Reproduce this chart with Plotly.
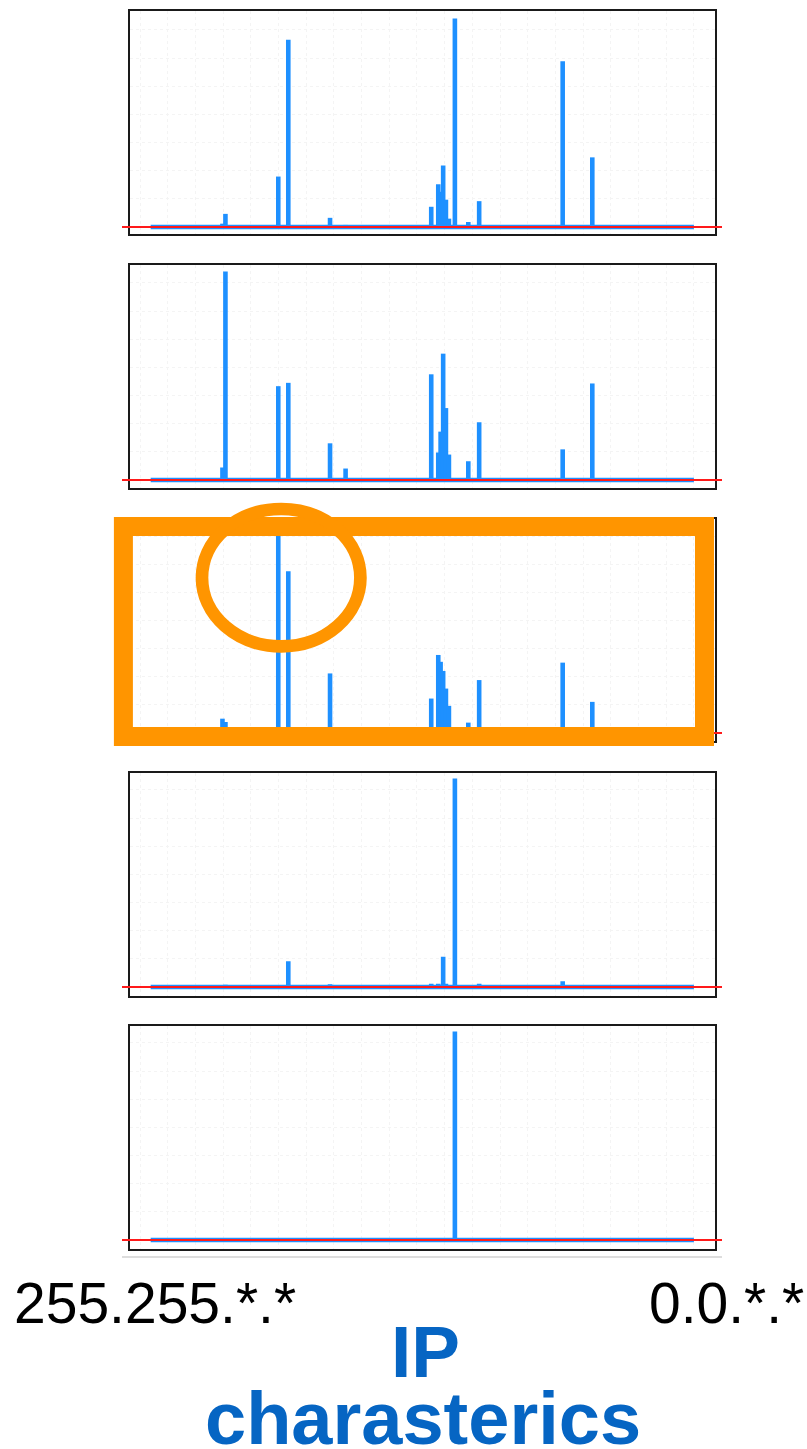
import plotly.graph_objects as go

# First-octet bins, drawn from 255 (left) down to 0 (right)
octets = [221.3, 219.9, 195.1, 190.4, 170.8, 163.5, 123.3, 120.0, 118.9,
          117.7, 116.4, 115.0, 112.2, 105.9, 100.8, 82.1, 61.6, 47.7]

# Relative traffic per bin (peak of each window = 100)
window_1 = [1.6, 6.3, 24.2, 89.8, 4.4, 1.0, 9.7, 20.5, 16.9,
            29.5, 13.1, 4.0, 100, 2.4, 12.4, 0.5, 79.5, 33.4]
window_2 = [6.0, 100, 45.0, 46.6, 17.6, 5.5, 50.7, 13.2, 23.2,
            60.6, 34.5, 12.2, 0, 9.0, 27.7, 0.6, 14.7, 46.3]
window_3 = [6.9, 5.3, 100, 77.9, 28.7, 0, 16.6, 37.6, 34.3,
            29.9, 21.4, 13.1, 0, 5.0, 25.5, 0, 33.9, 15.0]
window_4 = [0, 1.1, 1.0, 12.4, 1.3, 0, 1.6, 1.6, 0,
            14.5, 1.6, 0, 100, 0, 1.6, 0, 2.8, 0.5]
window_5 = [0, 0, 0.5, 0, 0, 0, 0, 0, 0,
            0, 0, 0, 100, 0, 0, 0, 0, 0]

windows = [window_1, window_2, window_3, window_4, window_5]

axis_left_label = "255.255.*.*"
axis_right_label = "0.0.*.*"
title_lines = ["IP", "charasterics"]

W, H = 807, 1449
BLUE = "#1e90ff"
ORANGE = "#ff9500"

# panel boxes in pixels (top, bottom); shared horizontal span
panel_px = [(11, 234), (265, 488), (519, 741), (772.5, 995.5), (1025.5, 1248.5)]
baseline_px = [227, 480, 733, 987, 1240]
x_left_px, x_right_px = 130, 715


def py(p):
    return 1 - p / H


def px(p):
    return p / W


fig = go.Figure()

for i, vals in enumerate(windows):
    xs, ys = [255, 0, None], [0, 0, None]
    for o, v in zip(octets, vals):
        if v > 0:
            xs += [o, o, None]
            ys += [0, v, None]
    ax = "" if i == 0 else str(i + 1)
    fig.add_trace(go.Scatter(
        x=xs, y=ys, mode="lines",
        line=dict(color=BLUE, width=4.6),
        xaxis="x" + ax, yaxis="y" + ax,
        hoverinfo="skip", showlegend=False,
    ))
    top, bot = panel_px[i]
    # keep the zero level at the same pixel row in every panel
    span = 103.6 + 3.36
    lo = -(bot - baseline_px[i]) / (bot - top) * span
    common = dict(showticklabels=False, ticks="", zeroline=False,
                  showline=True, mirror=True, linecolor="#1a1a1a", linewidth=2,
                  showgrid=True, gridcolor="#f4f4f4", griddash="dot", gridwidth=1)
    fig.update_layout(**{
        "xaxis" + ax: dict(domain=[px(x_left_px), px(x_right_px)],
                           range=[264.7, -9.9], dtick=13, tick0=0,
                           anchor="y" + ax, **common),
        "yaxis" + ax: dict(domain=[py(bot), py(top)], range=[lo, lo + span],
                           dtick=13.5, tick0=0, anchor="x" + ax, **common),
    })
    # red zero line running past the box edges
    fig.add_shape(type="line", xref="paper", yref="y" + ax,
                  x0=px(122), x1=px(722), y0=0, y1=0,
                  line=dict(color="#ff1a1a", width=2))

# light rule under the last panel
fig.add_shape(type="line", xref="paper", yref="paper",
              x0=px(122), x1=px(722), y0=py(1257), y1=py(1257),
              line=dict(color="#dddddd", width=2))

# highlight frame around the third window and the circled peak
fig.add_shape(type="rect", xref="paper", yref="paper",
              x0=px(123.4), x1=px(704.5), y0=py(736.4), y1=py(526.4),
              line=dict(color=ORANGE, width=19))
fig.add_shape(type="circle", xref="paper", yref="paper",
              x0=px(202), x1=px(360.4), y0=py(646.4), y1=py(509),
              line=dict(color=ORANGE, width=12.7))

fig.add_annotation(text=axis_left_label, xref="paper", yref="paper",
                   x=px(12), y=py(1302.5), xanchor="left", yanchor="middle",
                   showarrow=False,
                   font=dict(family="Liberation Sans, Arial", size=57, color="black"))
fig.add_annotation(text=axis_right_label, xref="paper", yref="paper",
                   x=px(806), y=py(1302.5), xanchor="right", yanchor="middle",
                   showarrow=False,
                   font=dict(family="Liberation Sans, Arial", size=57, color="black"))
fig.add_annotation(text="<b>%s</b>" % title_lines[0], xref="paper", yref="paper",
                   x=px(425), y=py(1351), xanchor="center", yanchor="middle",
                   showarrow=False,
                   font=dict(family="Liberation Sans, Arial", size=73, color="#0665c3"))
fig.add_annotation(text="<b>%s</b>" % title_lines[1], xref="paper", yref="paper",
                   x=px(423), y=py(1418.5), xanchor="center", yanchor="middle",
                   showarrow=False,
                   font=dict(family="Liberation Sans, Arial", size=74, color="#0665c3"))

fig.update_layout(width=W, height=H, margin=dict(l=0, r=0, t=0, b=0),
                  paper_bgcolor="white", plot_bgcolor="white", showlegend=False)

fig.write_html("out.html")
